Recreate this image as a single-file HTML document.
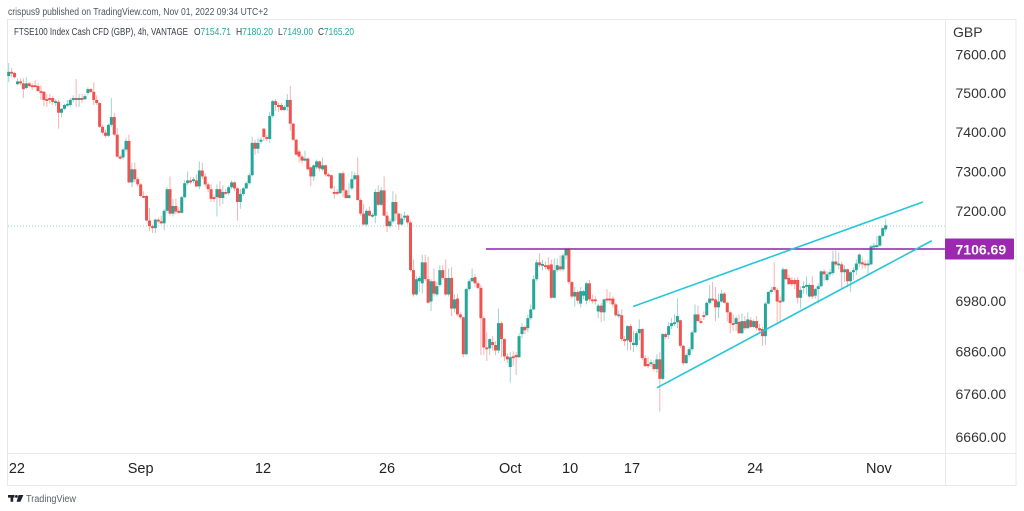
<!DOCTYPE html>
<html lang="en">
<head>
<meta charset="utf-8">
<title>FTSE100 Index Cash CFD chart</title>
<style>
html,body{margin:0;padding:0;background:#fff;width:1024px;height:511px;overflow:hidden}
svg{display:block;font-family:"Liberation Sans",sans-serif}
</style>
</head>
<body>
<svg id="chart" xmlns="http://www.w3.org/2000/svg" width="1024" height="511" viewBox="0 0 1024 511">
  <rect x="0" y="0" width="1024" height="511" fill="#fff"/>
  <text x="8" y="15" font-size="10" fill="#50535e" textLength="260" lengthAdjust="spacingAndGlyphs">crispus9 published on TradingView.com, Nov 01, 2022 09:34 UTC+2</text>
  <rect x="7.5" y="19.5" width="1008.5" height="466" fill="none" stroke="#e6e8ee" stroke-width="1"/>
  <line x1="945.5" y1="19.5" x2="945.5" y2="485.5" stroke="#e6e8ee" stroke-width="1"/>
  <line x1="7.5" y1="453.5" x2="1016" y2="453.5" stroke="#e6e8ee" stroke-width="1"/>
  <g id="marks"></g>
  <g>
    <text x="14" y="35" font-size="10" fill="#3a3d47" textLength="174" lengthAdjust="spacingAndGlyphs">FTSE100 Index Cash CFD (GBP), 4h, VANTAGE</text>
    <text x="194" y="35" font-size="10" fill="#26a69a" textLength="37" lengthAdjust="spacingAndGlyphs"><tspan fill="#3a3d47">O</tspan>7154.71</text>
    <text x="236" y="35" font-size="10" fill="#26a69a" textLength="37" lengthAdjust="spacingAndGlyphs"><tspan fill="#3a3d47">H</tspan>7180.20</text>
    <text x="278" y="35" font-size="10" fill="#26a69a" textLength="35" lengthAdjust="spacingAndGlyphs"><tspan fill="#3a3d47">L</tspan>7149.00</text>
    <text x="318" y="35" font-size="10" fill="#26a69a" textLength="36" lengthAdjust="spacingAndGlyphs"><tspan fill="#3a3d47">C</tspan>7165.20</text>
  </g>
  <text x="953" y="37" font-size="14" fill="#333">GBP</text>
  <g id="y-ticks"></g>
  <g id="x-ticks"></g>
  <g>
    <g fill="#1f222b">
      <rect x="8" y="495" width="6.5" height="2.6"/>
      <rect x="10.6" y="495" width="2.6" height="6.8"/>
      <circle cx="16.4" cy="496.4" r="1.4"/>
      <polygon points="18.6,495 23.4,495 20.4,501.8 16.6,501.8"/>
    </g>
    <text x="26" y="502" font-size="10" fill="#5d606b" textLength="50" lengthAdjust="spacingAndGlyphs">TradingView</text>
  </g>
</svg>
<script>
const opens = [7544,7555,7552,7523,7530,7525,7513,7525,7520,7520,7518,7505,7503,7484,7487,7487,7474,7477,7449,7459,
7469,7469,7482,7487,7482,7487,7484,7500,7510,7503,7482,7474,7413,7398,7390,7418,7438,7393,7337,7335,
7355,7377,7272,7305,7280,7267,7238,7238,7177,7163,7158,7179,7175,7170,7201,7255,7194,7213,7201,7196,
7235,7270,7277,7277,7277,7262,7302,7287,7267,7255,7235,7235,7255,7233,7248,7245,7260,7272,7257,7223,
7243,7257,7270,7290,7372,7357,7375,7408,7387,7382,7441,7479,7469,7469,7456,7464,7482,7421,7380,7350,
7337,7327,7332,7310,7287,7310,7325,7305,7315,7292,7290,7248,7248,7245,7295,7252,7233,7257,7280,7290,
7228,7194,7167,7201,7189,7189,7248,7216,7252,7189,7163,7175,7223,7194,7167,7184,7189,7172,7055,6996,
7028,7023,7074,7033,6979,7028,6996,7019,7055,7036,6996,7036,6962,6986,6948,6941,6853,7009,7028,7038,
7023,7012,6939,6869,6867,6882,6875,6862,6927,6889,6848,6823,6848,6851,6846,6901,6918,6915,6939,6960,
7033,7074,7069,7067,7067,7069,6988,7055,7064,7057,7091,7108,7026,6991,7002,6974,6993,6981,7023,6984,
6984,6955,6969,6953,6986,6986,6986,6972,6946,6946,6889,6886,6920,6875,6875,6903,6913,6844,6830,6830,
6830,6818,6841,6795,6901,6899,6920,6927,6929,6934,6873,6832,6851,6865,6905,6948,6932,6946,6946,6976,
6986,6984,6965,6979,6998,6976,6953,6927,6925,6930,6903,6932,6915,6934,6918,6932,6915,6913,6896,6974,
7002,7014,7007,6981,6979,7057,7036,7031,7031,7031,6988,7012,7016,6991,7019,6993,7009,7016,7052,7031,
7045,7048,7076,7069,7069,7050,7057,7028,7050,7055,7071,7074,7071,7069,7069,7113,7115,7115,7139,7155];
const closes = [7555,7552,7541,7530,7525,7510,7525,7518,7518,7518,7505,7503,7482,7482,7482,7477,7479,7449,7459,7469,
7472,7482,7487,7482,7487,7484,7492,7510,7503,7482,7474,7413,7398,7390,7418,7438,7393,7337,7332,7355,
7377,7272,7305,7280,7267,7238,7235,7177,7163,7158,7179,7175,7170,7201,7255,7194,7213,7199,7196,7235,
7270,7277,7272,7280,7262,7302,7287,7267,7255,7231,7231,7255,7233,7248,7245,7260,7272,7257,7223,7243,
7257,7270,7290,7372,7357,7372,7380,7387,7382,7441,7479,7469,7464,7456,7464,7482,7421,7380,7342,7337,
7327,7332,7305,7287,7315,7325,7307,7315,7292,7290,7257,7247,7245,7295,7252,7233,7240,7280,7290,7228,
7194,7167,7201,7189,7191,7248,7216,7252,7189,7163,7175,7223,7194,7167,7182,7189,7172,7055,6996,7033,
7036,7074,7033,6976,7028,6998,7016,7055,7036,6996,7036,6962,6984,6948,6941,6853,7009,7028,7036,7023,
7012,6939,6869,6867,6889,6875,6862,6927,6889,6848,6841,6846,6846,6846,6896,6918,6910,6939,6960,7033,
7074,7067,7070,7064,7057,6988,7055,7067,7057,7091,7108,7026,6991,7002,6981,7004,7004,7023,6984,6981,
6981,6969,6953,6984,6984,6984,6972,6946,6948,6889,6884,6920,6882,6880,6903,6913,6844,6825,6825,6834,
6818,6841,6795,6901,6894,6920,6927,6929,6944,6873,6832,6851,6865,6905,6948,6932,6929,6944,6976,6986,
6984,6965,6979,6998,6976,6953,6927,6925,6939,6903,6932,6915,6936,6918,6932,6915,6910,6896,6974,7002,
7007,7007,6979,6979,7057,7033,7021,7021,7021,6988,7007,7016,7019,7019,6991,7009,7016,7052,7045,7045,
7050,7076,7069,7071,7050,7057,7028,7050,7055,7071,7093,7069,7069,7071,7113,7115,7116,7139,7158,7165];
const highs = [7578,7565,7555,7538,7538,7538,7541,7528,7525,7533,7525,7520,7505,7497,7497,7492,7484,7482,7461,7472,
7482,7487,7494,7536,7497,7497,7497,7515,7513,7528,7494,7477,7418,7405,7421,7487,7449,7410,7342,7360,
7385,7393,7322,7322,7285,7270,7250,7240,7208,7167,7182,7184,7189,7206,7260,7287,7231,7231,7211,7238,
7277,7300,7285,7285,7292,7325,7322,7295,7272,7267,7240,7267,7275,7265,7255,7265,7277,7275,7260,7255,
7260,7275,7295,7387,7380,7385,7387,7410,7393,7451,7482,7484,7474,7474,7469,7497,7518,7423,7382,7355,
7342,7352,7335,7312,7317,7330,7327,7335,7317,7297,7292,7262,7255,7297,7300,7255,7270,7300,7297,7335,
7233,7218,7206,7211,7196,7255,7265,7260,7287,7199,7182,7250,7243,7196,7194,7199,7192,7177,7081,7040,
7040,7093,7093,7088,7033,7059,7026,7067,7067,7081,7059,7062,6996,6998,6953,6944,7012,7033,7059,7045,
7028,7019,6944,6905,6891,6896,6884,6962,6932,6891,6855,6858,6860,6858,6903,6927,6922,6948,6972,7043,
7081,7096,7081,7076,7086,7081,7084,7084,7091,7096,7110,7110,7028,7014,7007,7014,7007,7026,7031,6996,
6991,6974,6976,6986,7009,7002,6991,6976,6958,6960,6896,6922,6925,6908,6908,6936,6915,6851,6846,6841,
6839,6853,6858,6903,6905,6929,6939,6948,6986,6936,6875,6855,6870,6910,6972,6969,6939,6955,6979,7019,
7026,7014,6998,7007,7002,6979,6955,6948,6944,6948,6950,6944,6953,6941,6936,6944,6925,6918,6979,7004,
7014,7074,7012,6991,7062,7059,7045,7038,7036,7038,7016,7028,7040,7023,7040,7012,7023,7055,7057,7052,
7057,7103,7103,7098,7076,7067,7059,7052,7062,7081,7096,7086,7079,7081,7117,7122,7139,7141,7160,7180];
const lows = [7528,7541,7538,7520,7520,7487,7510,7515,7508,7515,7503,7482,7466,7464,7472,7469,7466,7408,7438,7456,
7464,7464,7477,7464,7464,7474,7482,7494,7500,7469,7469,7410,7393,7385,7387,7413,7390,7335,7330,7330,
7350,7270,7260,7272,7262,7235,7233,7175,7151,7146,7146,7170,7167,7153,7196,7189,7187,7192,7194,7194,
7233,7265,7267,7270,7260,7255,7280,7260,7248,7223,7223,7187,7213,7218,7240,7240,7255,7250,7177,7206,
7238,7255,7265,7287,7342,7345,7370,7377,7377,7372,7436,7454,7451,7454,7454,7454,7403,7377,7340,7322,
7320,7325,7302,7262,7275,7305,7300,7300,7287,7285,7255,7231,7240,7243,7235,7231,7231,7252,7277,7226,
7189,7165,7163,7187,7184,7170,7213,7213,7187,7148,7158,7170,7177,7153,7165,7177,7167,7052,6991,6993,
7002,6998,7028,6974,6956,6991,6991,7014,7031,6993,6991,6944,6953,6944,6936,6846,6851,7004,7026,7014,
7009,6851,6851,6837,6851,6862,6851,6855,6846,6837,6832,6786,6825,6804,6844,6891,6901,6905,6934,6958,
7028,7062,7055,7057,7052,6986,6986,7050,7052,7052,7081,7021,6986,6967,6972,6965,6984,6972,6979,6974,
6972,6939,6930,6932,6976,6972,6965,6941,6939,6884,6873,6862,6862,6858,6870,6886,6839,6823,6820,6823,
6813,6809,6719,6792,6889,6889,6913,6920,6915,6868,6827,6830,6846,6860,6903,6929,6925,6934,6944,6972,
6979,6932,6939,6976,6974,6932,6903,6908,6908,6901,6901,6910,6913,6915,6915,6910,6905,6873,6875,6972,
6998,7002,6927,6927,6976,7031,7019,7016,7009,6974,6962,6998,6996,6988,6986,6986,6974,7014,7028,7028,
7038,7043,7064,7057,7009,7026,7014,7002,7031,7043,7062,7057,7059,7045,7067,7105,7108,7113,7136,7149];
const priceTicks = [7600,7500,7400,7300,7200,6980,6860,6760,6660];
const timeLabels = ["22","Sep","12","26","Oct","10","17","24","Nov"];
const timeLabelBars = [2.8,45,86.7,129,171,191.4,212.5,254.5,296.7];
const lastPrice = 7165.2;
const levelPrice = 7106.69;
const levelBars = [162.7,319.2];
const upperTrendBars = [212.9,311.7];
const upperTrendPrices = [6967,7223];
const lowerTrendBars = [221,314.7];
const lowerTrendPrices = [6774,7127];

const NS = 'http://www.w3.org/2000/svg';
function xAt(bar){ return 8.7 + bar * 2.933; }
function yAt(price){ return 93 + 2896 * Math.log(7500 / price); }
function make(tag, parent, attrs){
  const el = document.createElementNS(NS, tag);
  for (const k in attrs) el.setAttribute(k, attrs[k]);
  parent.appendChild(el);
  return el;
}
const marks = document.getElementById('marks');
const last = make('line', marks, {x1:8, x2:945, y1:yAt(lastPrice)+0.7, y2:yAt(lastPrice)+0.7, stroke:'#26a69a', 'stroke-width':1, 'stroke-dasharray':'1 2', opacity:0.45});



opens.forEach(function(o, i){
  const c = closes[i];
  const up = c >= o;
  const col = up ? '#26a69a' : '#ef5350';
  const x = xAt(i);
  const g = make('g', marks, {});
  
  
  const wick = make('line', g, {x1:x, x2:x, y1:yAt(highs[i]), y2:yAt(lows[i]), stroke:col, 'stroke-width':1, opacity:0.45});
  
  
  const top = Math.min(yAt(o), yAt(c));
  const h = Math.max(Math.abs(yAt(o) - yAt(c)), 1.8);
  const body = make('rect', g, {x:x-1.5, y:top, width:3, height:h, fill:col});
  
  
});

const level = make('line', marks, {x1:xAt(levelBars[0]), x2:xAt(levelBars[1]), y1:yAt(levelPrice), y2:yAt(levelPrice), stroke:'#8e24aa', 'stroke-width':1.5});


const upper = make('line', marks, {x1:xAt(upperTrendBars[0]), x2:xAt(upperTrendBars[1]), y1:yAt(upperTrendPrices[0]), y2:yAt(upperTrendPrices[1]), stroke:'#26c6da', 'stroke-width':1.6});


const lower = make('line', marks, {x1:xAt(lowerTrendBars[0]), x2:xAt(lowerTrendBars[1]), y1:yAt(lowerTrendPrices[0]), y2:yAt(lowerTrendPrices[1]), stroke:'#26c6da', 'stroke-width':1.6});



const yTicks = document.getElementById('y-ticks');
priceTicks.forEach(function(p){
  const t = make('text', yTicks, {x:955.5, y:yAt(p)+5, 'font-size':14, fill:'#333'});
  
  
  t.textContent = p.toFixed(2);
});
const badge = make('rect', yTicks, {x:945, y:yAt(levelPrice)-10.5, width:69, height:21, rx:1, fill:'#9c27b0'});


const badgeText = make('text', yTicks, {x:955.5, y:yAt(levelPrice)+5.3, 'font-size':14, 'font-weight':'bold', fill:'#fff'});


badgeText.textContent = levelPrice.toFixed(2);

const xTicks = document.getElementById('x-ticks');
timeLabels.forEach(function(label, i){
  const t = make('text', xTicks, {x:xAt(timeLabelBars[i]), y:473, 'font-size':14.5, fill:'#222', 'text-anchor':'middle'});
  
  
  t.textContent = label;
});
</script>
</body>
</html>
